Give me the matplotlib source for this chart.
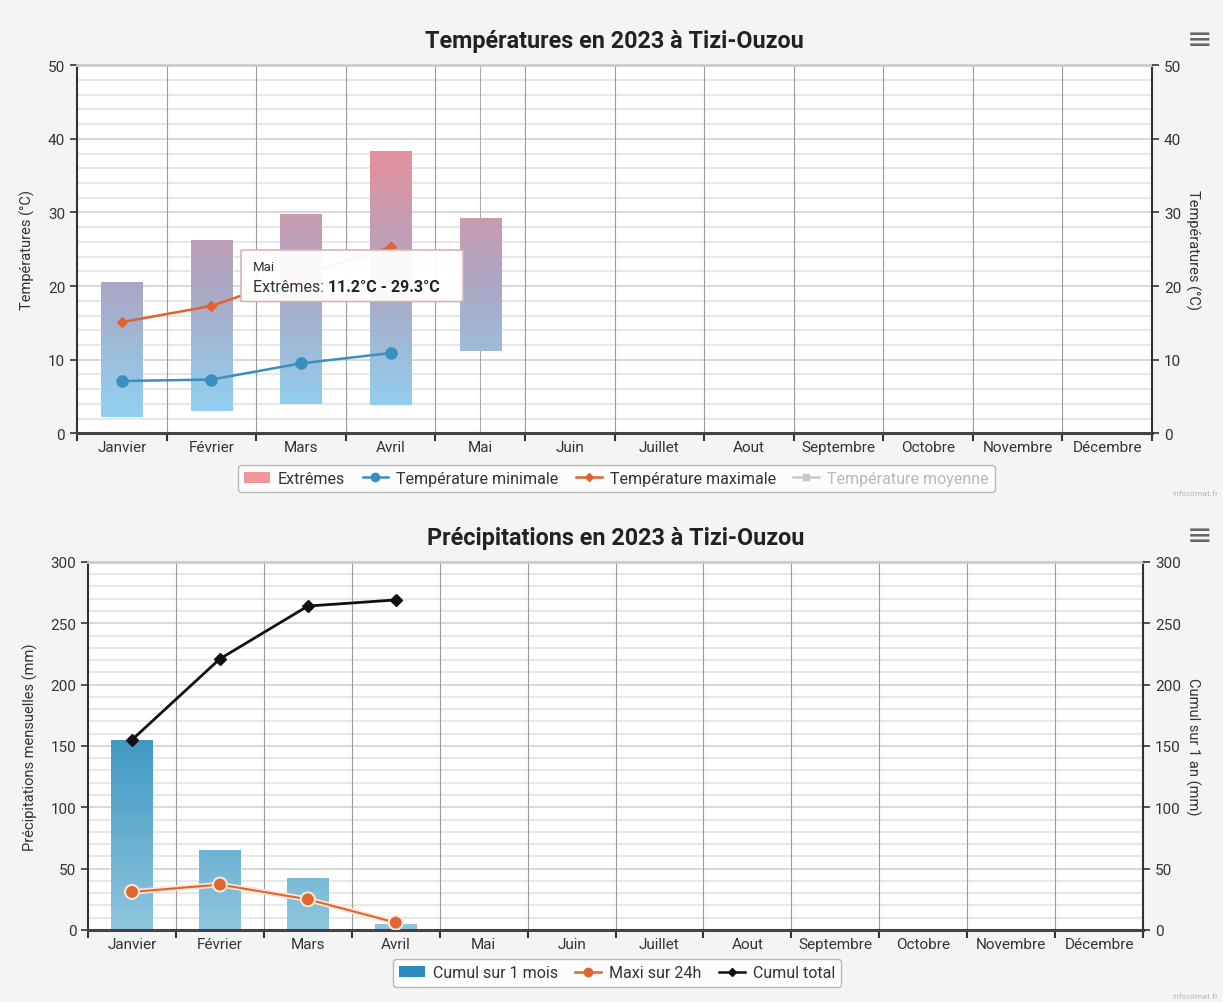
import matplotlib
matplotlib.use('Agg')
import matplotlib.pyplot as plt
import numpy as np
from matplotlib.colors import LinearSegmentedColormap
from matplotlib.lines import Line2D
from matplotlib.patches import Patch, FancyBboxPatch
import matplotlib.patheffects as pe

plt.rcParams['font.family'] = ['Roboto', 'DejaVu Sans']

mois = ['Janvier', 'Février', 'Mars', 'Avril', 'Mai', 'Juin', 'Juillet',
        'Aout', 'Septembre', 'Octobre', 'Novembre', 'Décembre']

# températures 2023 (°C)
ext_min = [2.2, 3.0, 4.0, 3.8, 11.2]
ext_max = [20.6, 26.3, 29.8, 38.3, 29.3]
t_min = [7.1, 7.3, 9.5, 10.9]
t_max = [15.1, 17.3, 21.5, 25.3]

# précipitations 2023 (mm)
cumul_mois = [155, 65, 42, 5]
maxi_24h = [31, 37, 25, 6]
cumul_total = [155, 221, 264, 269]

TXT = '#333333'
BG = '#f4f4f4'
FS = 11

fig = plt.figure(figsize=(12.23, 10.03), dpi=100, facecolor=BG)

cm_temp = LinearSegmentedColormap.from_list(
    'temp', [(0, '#8dd6f8'), (0.4, '#aba7c3'), (0.78, '#e6909d'), (1, '#f8808f')])
cm_pluie = LinearSegmentedColormap.from_list(
    'pluie', [(0, '#8fc6de'), (0.5, '#4299c4'), (1, '#1f7fb3')])


def base_axes(rect, ymax, major, minor, ylabel_l, ylabel_r):
    ax = fig.add_axes(rect, facecolor='white')
    ax.set_xlim(-0.5, 11.5)
    ax.set_ylim(0, ymax)
    for y in np.arange(minor, ymax, minor):
        if y % major:
            ax.axhline(y, color='#e8e8e8', lw=1.6, zorder=0)
    for y in np.arange(major, ymax, major):
        ax.axhline(y, color='#d2d2d2', lw=1.2, zorder=0)
    for x in np.arange(0.5, 11.5, 1):
        ax.axvline(x, color='#9a9a9a', lw=0.8, zorder=0)
    ax.set_xticks(range(12))
    ax.set_xticklabels(mois, fontsize=FS, color=TXT)
    ax.set_xticks(np.arange(-0.5, 12, 1), minor=True)
    ax.tick_params(axis='x', which='major', length=0, pad=5)
    ax.tick_params(axis='x', which='minor', length=6, width=1.5, color='#333')
    ax.set_yticks(np.arange(0, ymax + 1, major))
    ax.tick_params(axis='y', length=5, width=1.2, color='#333', labelsize=FS, labelcolor=TXT)
    ax.set_ylabel(ylabel_l, fontsize=10.5, color=TXT, labelpad=9)
    for s in ['left', 'right']:
        ax.spines[s].set_color('#333')
        ax.spines[s].set_linewidth(1.5)
    ax.spines['bottom'].set_color('#444')
    ax.spines['bottom'].set_linewidth(2.2)
    ax.spines['top'].set_color('#cccccc')
    ax.spines['top'].set_linewidth(2)

    ax2 = ax.twinx()
    ax2.set_ylim(0, ymax)
    ax2.set_yticks(np.arange(0, ymax + 1, major))
    ax2.tick_params(axis='y', length=5, width=1.2, color='#333', labelsize=FS, labelcolor=TXT)
    ax2.set_ylabel(ylabel_r, fontsize=10.5, color=TXT, rotation=270, labelpad=14)
    for s in ax2.spines.values():
        s.set_visible(False)
    return ax


def gradient_bars(ax, x, bottom, top, cmap, vmax, width):
    bars = ax.bar(x, np.array(top) - np.array(bottom), bottom=bottom,
                  width=width, color='none', zorder=2)
    grad = np.linspace(0, 1, 256).reshape(-1, 1)
    for b in bars:
        im = ax.imshow(grad, cmap=cmap, origin='lower', aspect='auto',
                       extent=(b.get_x(), b.get_x() + b.get_width(), 0, vmax),
                       zorder=2, interpolation='bicubic')
        im.set_clip_path(b)
    ax.set_xlim(-0.5, 11.5)


def menu_and_credit(y_menu, y_credit):
    fig.text(1200 / 1223, 1 - y_menu / 1003, '≡', family='DejaVu Sans', fontsize=22,
             color='#666', ha='center', va='center')
    fig.text(1218 / 1223, 1 - y_credit / 1003, 'infoclimat.fr', fontsize=6,
             color='#b5b5b5', ha='right', va='center')


# ---- températures ----
ax1 = base_axes([0.063, 0.567, 0.879, 0.367], 50, 10, 2,
                'Températures (°C)', 'Températures (°C)')
ax1.axvline(4, color='#aaaaaa', lw=0.8, zorder=0)
gradient_bars(ax1, range(len(ext_max)), ext_min, ext_max, cm_temp, 50, 0.46)
ax1.set_ylim(0, 50)
ax1.plot(range(len(t_min)), t_min, color='#3a8fbf', lw=1.8, marker='o', ms=8, zorder=4)
ax1.plot(range(len(t_max)), t_max, color='#e0622f', lw=1.8, marker='D', ms=5, zorder=4)
ax1.set_title('Températures en 2023 à Tizi-Ouzou', fontsize=16.8, weight='bold',
              color='#222', pad=13)

# info-bulle sur mai
box = FancyBboxPatch((1.33, 17.9), 2.48, 7.0, boxstyle='round,pad=0,rounding_size=0.08',
                     fc='white', ec='#d8b0b0', lw=1.2, alpha=0.95, zorder=6)
ax1.add_patch(box)
ax1.text(1.46, 22.7, mois[4], fontsize=9.5, color=TXT, va='center', zorder=7)
t1 = ax1.text(1.46, 19.9, 'Extrêmes: ', fontsize=11.5, color=TXT, va='center', zorder=7)
ax1.annotate(f'{ext_min[4]}°C - {ext_max[4]}°C', xy=(1, 0.5), xycoords=t1,
             va='center', fontsize=11.5, weight='bold', color='#222', zorder=7)

h1 = [Patch(facecolor='#f0959a', edgecolor='none', label='Extrêmes'),
      Line2D([], [], color='#3a8fbf', marker='o', lw=1.8, ms=6, label='Température minimale'),
      Line2D([], [], color='#e0622f', marker='D', lw=1.8, ms=4, label='Température maximale'),
      Line2D([], [], color='#c8c8c8', marker='s', lw=1.8, ms=5, label='Température moyenne')]
leg1 = fig.legend(handles=h1, loc='center', bbox_to_anchor=(0.504, 0.522), ncol=4,
                  fontsize=11.5, frameon=True, fancybox=True, edgecolor='#aaaaaa',
                  facecolor='white', handlelength=1.6, columnspacing=1.1,
                  handletextpad=0.5, borderpad=0.4)
for t, c in zip(leg1.get_texts(), [TXT, TXT, TXT, '#b8b8b8']):
    t.set_color(c)
menu_and_credit(40, 494)

# ---- précipitations ----
ax3 = base_axes([0.072, 0.0718, 0.8626, 0.367], 300, 50, 10,
                'Précipitations mensuelles (mm)', 'Cumul sur 1 an (mm)')
gradient_bars(ax3, range(len(cumul_mois)), [0] * len(cumul_mois), cumul_mois,
              cm_pluie, 300, 0.47)
ax3.set_ylim(0, 300)
ax3.plot(range(len(maxi_24h)), maxi_24h, color='#e0652f', lw=1.5, marker='o', ms=7.5, zorder=4,
         path_effects=[pe.Stroke(linewidth=4, foreground='#fbe6d8'), pe.Normal()])
ax3.plot(range(len(cumul_total)), cumul_total, color='#111111', lw=2, marker='D', ms=6, zorder=4)
ax3.set_title('Précipitations en 2023 à Tizi-Ouzou', fontsize=16.8, weight='bold',
              color='#222', pad=13)

h2 = [Patch(facecolor='#2a8ac0', edgecolor='none', label='Cumul sur 1 mois'),
      Line2D([], [], color='#e0652f', marker='o', lw=1.8, ms=6, label='Maxi sur 24h'),
      Line2D([], [], color='#111111', marker='D', lw=1.8, ms=4, label='Cumul total')]
fig.legend(handles=h2, loc='center', bbox_to_anchor=(0.5045, 0.029), ncol=3,
           fontsize=11.5, frameon=True, fancybox=True, edgecolor='#aaaaaa',
           facecolor='white', handlelength=1.6, columnspacing=1.1,
           handletextpad=0.5, borderpad=0.4, labelcolor=TXT)
menu_and_credit(537, 997)

fig.savefig('out.png', dpi=100, facecolor=BG)
